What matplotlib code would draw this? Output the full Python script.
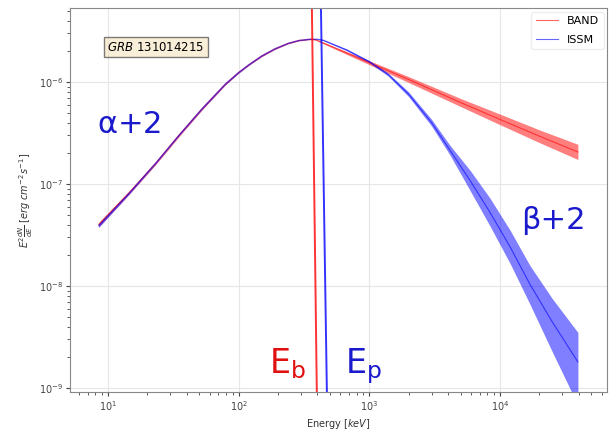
import matplotlib
matplotlib.use("Agg")
import matplotlib.pyplot as plt

# values (keV, erg cm^-2 s^-1)
band_E = [8.5, 14.5, 23.2, 34.9, 52.7, 79.5, 100, 120, 150, 190, 240, 290,
          351, 386, 1000, 2000, 5000, 10000, 20000, 39500]
band_F = [4.0e-8, 8.2e-8, 1.6e-7, 3.0e-7, 5.5e-7, 9.6e-7, 1.24e-6, 1.48e-6,
          1.8e-6, 2.12e-6, 2.4e-6, 2.56e-6, 2.63e-6, 2.61e-6,
          1.55e-6, 1.06e-6, 6.3e-7, 4.3e-7, 2.95e-7, 2.06e-7]
band_lo = [3.8e-8, 7.9e-8, 1.55e-7, 2.9e-7, 5.35e-7, 9.4e-7, 1.22e-6, 1.46e-6,
           1.77e-6, 2.09e-6, 2.37e-6, 2.53e-6, 2.6e-6, 2.58e-6,
           1.48e-6, 0.99e-6, 5.75e-7, 3.82e-7, 2.55e-7, 1.74e-7]
band_hi = [4.2e-8, 8.5e-8, 1.65e-7, 3.1e-7, 5.65e-7, 9.8e-7, 1.26e-6, 1.5e-6,
           1.83e-6, 2.15e-6, 2.43e-6, 2.59e-6, 2.66e-6, 2.64e-6,
           1.62e-6, 1.13e-6, 6.9e-7, 4.85e-7, 3.4e-7, 2.45e-7]

issm_E = [8.5, 14.5, 23.2, 34.9, 52.7, 79.5, 100, 120, 150, 190, 240, 290,
          351, 400, 442, 675, 1012, 1400, 2000, 3000, 4140, 5890, 8370,
          12000, 16900, 25000, 39500]
issm_F = [3.9e-8, 8.1e-8, 1.6e-7, 3.0e-7, 5.5e-7, 9.6e-7, 1.24e-6, 1.48e-6,
          1.8e-6, 2.12e-6, 2.4e-6, 2.56e-6, 2.63e-6, 2.63e-6,
          2.58e-6, 2.06e-6, 1.57e-6, 1.18e-6, 7.6e-7, 4.0e-7, 2.15e-7, 1.09e-7,
          5.3e-8, 2.4e-8, 1.05e-8, 4.5e-9, 1.8e-9]
issm_lo = [3.75e-8, 7.9e-8, 1.57e-7, 2.95e-7, 5.4e-7, 9.45e-7, 1.22e-6, 1.46e-6,
           1.78e-6, 2.1e-6, 2.38e-6, 2.54e-6, 2.61e-6, 2.61e-6,
           2.55e-6, 2.02e-6, 1.53e-6, 1.14e-6, 7.2e-7, 3.7e-7, 1.93e-7, 8.7e-8,
           3.9e-8, 1.65e-8, 6.7e-9, 2.3e-9, 6.8e-10]
issm_hi = [4.05e-8, 8.3e-8, 1.63e-7, 3.05e-7, 5.6e-7, 9.75e-7, 1.26e-6, 1.5e-6,
           1.82e-6, 2.14e-6, 2.42e-6, 2.58e-6, 2.65e-6, 2.65e-6,
           2.61e-6, 2.1e-6, 1.61e-6, 1.22e-6, 8.0e-7, 4.3e-7, 2.4e-7, 1.37e-7,
           7.3e-8, 3.5e-8, 1.6e-8, 7.6e-9, 3.5e-9]

# break / peak energies (slightly tilted lines in the original)
Eb_line = [364, 397]
Ep_line = [427, 474]
line_F = [5.3e-6, 9.1e-10]

fig = plt.figure(figsize=(6.13, 4.30), dpi=100)
ax = fig.add_axes([0.114, 0.088, 0.876, 0.893])
ax.set_axisbelow(True)

ax.fill_between(band_E, band_lo, band_hi, color="red", alpha=0.5, lw=0)
ax.plot(band_E, band_F, color="red", lw=0.8, alpha=0.6, label="BAND")
ax.fill_between(issm_E, issm_lo, issm_hi, color="blue", alpha=0.5, lw=0)
ax.plot(issm_E, issm_F, color="blue", lw=0.8, alpha=0.6, label="ISSM")

ax.plot(Eb_line, line_F, color="red", lw=1.4, alpha=0.8)
ax.plot(Ep_line, line_F, color="blue", lw=1.4, alpha=0.8)

ax.set_xscale("log")
ax.set_yscale("log")
ax.set_xlim(5.12, 6.58e4)
ax.set_ylim(9.1e-10, 5.3e-6)
ax.grid(True, which="major", color="#e6e6e6", lw=0.8)
for s in ax.spines.values():
    s.set_color("#888888")
ax.tick_params(labelsize=7, colors="#444444", which="both", pad=2)
ax.tick_params(which="major", length=3)
ax.tick_params(which="minor", length=2)

ax.set_xlabel("Energy [$keV$]", fontsize=7, color="#333333", labelpad=3)
ax.set_ylabel(r"$E^2\frac{dN}{dE}$ [$erg\ cm^{-2}s^{-1}$]", fontsize=7,
              color="#333333", labelpad=3)

ax.text(0.07, 0.898, "$GRB$ 131014215", transform=ax.transAxes, fontsize=8.5,
        va="center", bbox=dict(boxstyle="square", facecolor="wheat", alpha=0.5))
ax.text(0.05, 0.675, r"$\mathregular{\alpha}$+2", transform=ax.transAxes,
        fontsize=22, color="#1a1acc")
ax.text(0.84, 0.425, "β+2", transform=ax.transAxes, fontsize=22, color="#1a1acc")
ax.text(0.37, 0.05, r"E$_{\mathregular{b}}$", transform=ax.transAxes,
        fontsize=24, color="#e01010")
ax.text(0.513, 0.05, r"E$_{\mathregular{p}}$", transform=ax.transAxes,
        fontsize=24, color="#1a1acc")

ax.legend(loc="upper right", fontsize=8, framealpha=1, edgecolor="#eeeeee",
          labelspacing=0.8, borderaxespad=0.3)

fig.savefig("out.png", dpi=100)
